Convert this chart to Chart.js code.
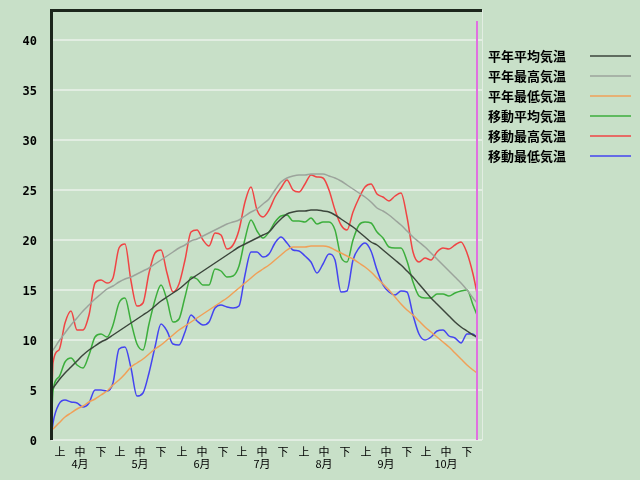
<!DOCTYPE html>
<html>
<head>
<meta charset="utf-8">
<script src="https://cdn.jsdelivr.net/npm/chart.js@4"></script>
<style>
  html, body { margin: 0; padding: 0; background: #c8e0c8; }
  #wrap { width: 640px; height: 480px; }
</style>
</head>
<body>
<div id="wrap"><canvas id="tempChart"></canvas></div>
<script>
// day index from 4/1
const days = [0, 1, 4, 7, 10, 13, 16, 19, 22, 25, 28, 31, 34, 37, 40, 43, 46, 49, 52, 55, 58,
  61, 64, 67, 70, 73, 76, 79, 82, 85, 88, 91, 94, 97, 100, 103, 106, 109, 112, 115, 118,
  121, 124, 127, 130, 133, 136, 139, 142, 145, 148, 151, 154, 157, 160, 163, 166, 169, 172,
  175, 178, 181, 184, 187, 190, 193, 196, 199, 202, 205, 208, 211, 213];

const normalMean = [5.0, 5.2, 6.0, 6.7, 7.3, 7.9, 8.5, 9.0, 9.4, 9.8, 10.1, 10.5, 10.9, 11.3, 11.7,
  12.1, 12.5, 12.9, 13.4, 13.9, 14.3, 14.7, 15.1, 15.6, 16.1, 16.5, 16.9, 17.3, 17.7, 18.1, 18.5,
  18.9, 19.3, 19.6, 19.9, 20.2, 20.5, 20.8, 21.5, 22.1, 22.6, 22.8, 22.9, 22.9, 23.0, 23.0, 22.9,
  22.8, 22.5, 22.1, 21.7, 21.3, 20.8, 20.3, 19.8, 19.5, 19.0, 18.5, 18.0, 17.5, 16.9, 16.3, 15.6,
  14.9, 14.2, 13.6, 13.0, 12.4, 11.8, 11.3, 10.9, 10.5, 10.3];
const normalMax = [8.8, 9.0, 9.9, 10.7, 11.5, 12.2, 12.9, 13.5, 14.1, 14.6, 15.1, 15.4, 15.8, 16.1,
  16.3, 16.6, 16.9, 17.2, 17.6, 18.0, 18.4, 18.8, 19.2, 19.5, 19.9, 20.1, 20.4, 20.7, 21.0, 21.3,
  21.6, 21.8, 22.0, 22.4, 22.8, 23.1, 23.6, 24.1, 25.0, 25.8, 26.2, 26.4, 26.5, 26.5, 26.6, 26.6,
  26.6, 26.4, 26.2, 25.9, 25.5, 25.1, 24.7, 24.3, 23.8, 23.2, 22.9, 22.5, 22.0, 21.5, 20.9, 20.3,
  19.8, 19.3, 18.7, 18.1, 17.5, 16.9, 16.3, 15.7, 15.0, 14.2, 13.7];
const normalMin = [1.0, 1.1, 1.7, 2.3, 2.7, 3.1, 3.4, 3.8, 4.1, 4.5, 4.9, 5.5, 6.0, 6.6, 7.3, 7.7,
  8.1, 8.6, 9.1, 9.5, 10.0, 10.5, 11.0, 11.4, 11.8, 12.2, 12.6, 13.0, 13.4, 13.8, 14.2, 14.7, 15.2,
  15.7, 16.2, 16.7, 17.1, 17.5, 18.0, 18.5, 19.0, 19.3, 19.3, 19.3, 19.4, 19.4, 19.4, 19.3, 19.0,
  18.7, 18.4, 18.1, 17.7, 17.3, 16.8, 16.2, 15.6, 15.0, 14.3, 13.6, 13.0, 12.5, 11.9, 11.3, 10.8,
  10.3, 9.8, 9.3, 8.7, 8.1, 7.5, 7.0, 6.7];
const movingMean = [0, 4.9, 6.3, 7.8, 8.2, 7.5, 7.2, 8.5, 10.3, 10.6, 10.3, 11.5, 13.7, 14.2, 11.8,
  9.6, 9.0, 11.6, 14.0, 15.5, 14.0, 11.8, 12.1, 14.3, 16.3, 16.1, 15.5, 15.5, 17.1, 16.9, 16.3,
  16.4, 17.4, 20.1, 22.0, 20.9, 20.2, 20.8, 21.8, 22.4, 22.5, 21.9, 21.9, 21.8, 22.2, 21.6, 21.8,
  21.8, 21.0, 18.3, 17.8, 20.0, 21.5, 21.8, 21.7, 20.8, 20.2, 19.3, 19.2, 19.2, 17.9, 15.8, 14.4,
  14.2, 14.2, 14.6, 14.6, 14.4, 14.7, 14.9, 15.0, 13.5, 12.5];
const movingMax = [0, 7.7, 9.0, 11.7, 12.9, 11.0, 11.0, 12.5, 15.7, 16.0, 15.7, 16.2, 19.2, 19.6,
  15.9, 13.4, 13.7, 16.7, 18.7, 19.0, 16.7, 14.8, 15.6, 18.0, 20.8, 21.0, 20.0, 19.4, 20.7, 20.5,
  19.1, 19.5, 21.0, 23.8, 25.3, 23.0, 22.3, 23.0, 24.3, 25.2, 26.0, 25.0, 24.8, 25.6, 26.5, 26.3,
  26.2, 25.0, 23.0, 21.5, 21.0, 22.8, 24.2, 25.3, 25.6, 24.6, 24.3, 23.9, 24.4, 24.7, 22.3, 18.8,
  17.8, 18.2, 18.0, 18.8, 19.2, 19.1, 19.5, 19.8, 18.7, 16.6, 14.7];
const movingMin = [0, 1.7, 3.6, 4.0, 3.8, 3.7, 3.3, 3.7, 5.0, 5.0, 4.9, 5.7, 9.1, 9.3, 7.2, 4.4,
  4.7, 6.7, 9.3, 11.6, 10.9, 9.6, 9.5, 10.8, 12.5, 11.9, 11.5, 11.8, 13.2, 13.5, 13.3, 13.2, 13.4,
  16.5, 18.8, 18.8, 18.3, 18.6, 19.7, 20.3, 19.7, 19.0, 18.9, 18.4, 17.8, 16.7, 17.6, 18.6, 18.0,
  14.8, 14.9, 18.0, 19.2, 19.7, 18.9, 17.0, 15.5, 14.8, 14.5, 14.9, 14.8, 12.5, 10.6, 10.0, 10.3,
  10.9, 11.0, 10.4, 10.2, 9.7, 10.6, 10.6, 10.2];

const seriesLabels = ["平年平均気温", "平年最高気温", "平年最低気温", "移動平均気温", "移動最高気温", "移動最低気温"];
const seriesColors = ["#3c463c", "#9ca49c", "#f0a058", "#3cae3c", "#f04444", "#4444f0"];
const monthLabels = ["4月", "5月", "6月", "7月", "8月", "9月", "10月"];
const monthStarts = [0, 30, 61, 91, 122, 153, 183];
const decadeLabels = ["上", "中", "下"];
const yTickStep = 5;
const todayDay = 213;
const todayTop = 41.9;

const jpFont = "'Noto Sans CJK JP', sans-serif";

// 上中下 ticks, month name under 中
const tickDays = [];
const tickLabels = [];
monthStarts.forEach((start, m) => {
  [4.5, 14.5, 25].forEach((off, i) => {
    tickDays.push(start + off);
    tickLabels.push(i === 1 ? [decadeLabels[i], monthLabels[m]] : decadeLabels[i]);
  });
});

const allSeries = [normalMean, normalMax, normalMin, movingMean, movingMax, movingMin];
const datasets = allSeries.map((vals, i) => ({
  label: seriesLabels[i],
  data: vals.map((v, j) => ({ x: days[j], y: v })),
  borderColor: seriesColors[i],
  borderWidth: 1.5,
  pointRadius: 0,
  cubicInterpolationMode: "monotone",
  fill: false,
}));
datasets.unshift({
  label: "today",
  data: [{ x: todayDay, y: 0 }, { x: todayDay, y: todayTop }],
  borderColor: "#e070e0",
  borderWidth: 2,
  pointRadius: 0,
});

const bgPlugin = {
  id: "bg",
  beforeDraw(chart) {
    const ctx = chart.ctx;
    ctx.save();
    ctx.fillStyle = "#c8e0c8";
    ctx.fillRect(0, 0, chart.width, chart.height);
    ctx.restore();
  },
};

const framePlugin = {
  id: "frame",
  afterDraw(chart) {
    const { ctx, chartArea: a } = chart;
    ctx.save();
    ctx.fillStyle = "#e2ede2";
    ctx.fillRect(a.right, a.top, 1, a.bottom - a.top);
    ctx.fillStyle = "#1c261c";
    ctx.fillRect(a.left - 1, a.top - 1, a.right - a.left + 1, 3);
    ctx.fillRect(a.left - 1, a.top - 1, 3, a.bottom - a.top + 1);
    ctx.restore();
  },
};

const legendPlugin = {
  id: "sideLegend",
  afterDraw(chart) {
    const ctx = chart.ctx;
    ctx.save();
    ctx.font = "bold 13px " + jpFont;
    ctx.textBaseline = "middle";
    seriesLabels.forEach((label, i) => {
      const y = 56 + i * 20;
      ctx.fillStyle = "#000";
      ctx.fillText(label, 488, y);
      ctx.globalAlpha = 0.75;
      ctx.strokeStyle = seriesColors[i];
      ctx.lineWidth = 2;
      ctx.beginPath();
      ctx.moveTo(590, y);
      ctx.lineTo(631, y);
      ctx.stroke();
      ctx.globalAlpha = 1;
    });
    ctx.restore();
  },
};

new Chart(tempChart, {
  type: "line",
  data: { datasets },
  options: {
    responsive: true,
    maintainAspectRatio: false,
    animation: false,
    layout: { padding: { top: 10, right: 158, bottom: 0, left: 0 } },
    plugins: { legend: { display: false }, tooltip: { enabled: false } },
    scales: {
      x: {
        type: "linear",
        min: 0,
        max: 215.5,
        grid: { display: false, drawTicks: false },
        border: { display: false },
        afterBuildTicks: (scale) => {
          scale.ticks = tickDays.map((v) => ({ value: v }));
        },
        afterFit: (scale) => {
          scale.height = 40;
          scale.paddingLeft = 0;
          scale.paddingRight = 0;
        },
        ticks: {
          autoSkip: false,
          maxRotation: 0,
          padding: 6,
          color: "#000",
          font: { family: jpFont, size: 11, lineHeight: 1.1 },
          callback: (v, i) => tickLabels[i],
        },
      },
      y: {
        min: 0,
        max: 43,
        grid: { color: "#e2ede2", lineWidth: 2, drawTicks: false },
        border: { display: false },
        afterBuildTicks: (scale) => {
          scale.ticks = scale.ticks.filter((t) => t.value % yTickStep === 0);
        },
        afterFit: (scale) => {
          scale.width = 51;
          scale.paddingTop = 0;
          scale.paddingBottom = 0;
        },
        ticks: {
          stepSize: yTickStep,
          padding: 14,
          labelOffset: 2,
          color: "#000",
          font: { family: "'DejaVu Sans Mono', monospace", size: 12, weight: "bold" },
        },
      },
    },
  },
  plugins: [bgPlugin, framePlugin, legendPlugin],
});
</script>
</body>
</html>
